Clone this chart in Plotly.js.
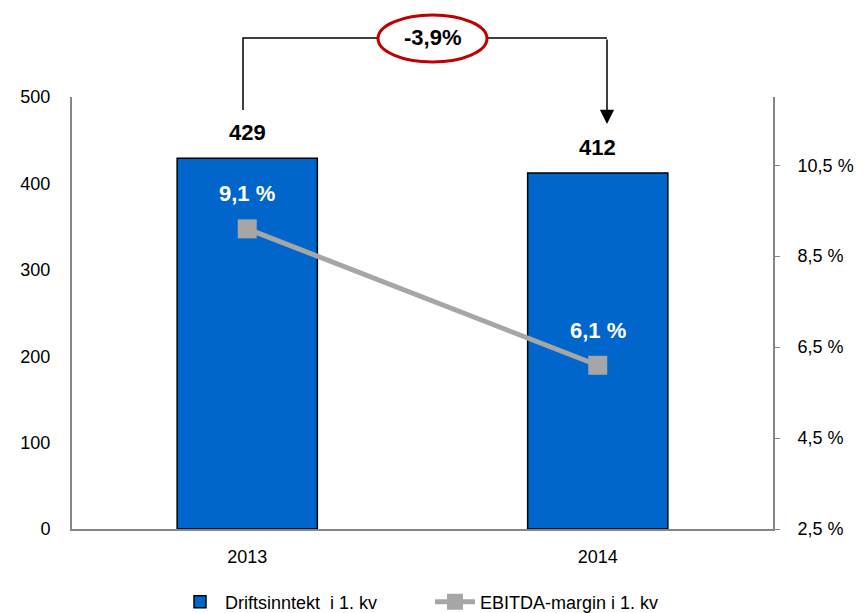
<!DOCTYPE html>
<html>
<head>
<meta charset="utf-8">
<script src="https://cdn.plot.ly/plotly-3.0.1.min.js"></script>
<style>
  html, body { margin: 0; padding: 0; background: #ffffff; }
  #chart { width: 864px; height: 613px; }
</style>
</head>
<body>
<div id="chart"></div>
<script>
// ---- Data ----
const categories = ['2013', '2014'];
const revenue = [429, 412];
const ebitdaMargin = [9.1, 6.1];
const leftTickVals = [0, 100, 200, 300, 400, 500];
const rightTickVals = [2.5, 4.5, 6.5, 8.5, 10.5];
const seriesNames = ['Driftsinntekt \u00a0i 1. kv', 'EBITDA-margin i 1. kv'];
const changeLabel = '-3,9%';

// ---- Helpers ----
const pct = v => v.toFixed(1).replace('.', ',') + ' %';
const FONT = 'Liberation Sans, Arial, sans-serif';
const AXIS_GRAY = '#868686';

// paper coordinate helpers for decorative bracket (plot area 72..773 x, 97..529 y)
const PX = px => (px - 72) / 701;
const PY = py => (529 - py) / 432;

const barTrace = {
  type: 'bar',
  name: seriesNames[0],
  x: categories,
  y: revenue,
  marker: { color: '#0066CC', line: { color: '#000000', width: 1.5 } },
  hoverinfo: 'x+y'
};

const lineTrace = {
  type: 'scatter',
  mode: 'lines+markers',
  name: seriesNames[1],
  x: categories,
  y: ebitdaMargin,
  yaxis: 'y2',
  line: { color: '#A6A6A6', width: 5 },
  marker: { symbol: 'square', size: 19, color: '#A6A6A6' }
};

const annotations = [];
categories.forEach((c, i) => {
  annotations.push({
    x: i, y: revenue[i], xref: 'x', yref: 'y',
    text: '<b>' + revenue[i] + '</b>', showarrow: false,
    xanchor: 'center', yanchor: 'middle',
    yshift: 26, font: { family: FONT, size: 22, color: '#000000' }
  });
  annotations.push({
    x: i, y: ebitdaMargin[i], xref: 'x', yref: 'y2',
    text: '<b>' + pct(ebitdaMargin[i]) + '</b>', showarrow: false,
    xanchor: 'center', yanchor: 'middle',
    yshift: 35, font: { family: FONT, size: 22, color: '#FFFFFF' }
  });
});

// change label inside ellipse
annotations.push({
  x: PX(432), y: PY(38), xref: 'paper', yref: 'paper',
  xanchor: 'center', yanchor: 'middle',
  text: '<b>' + changeLabel + '</b>', showarrow: false,
  font: { family: FONT, size: 22, color: '#000000' }
});
// arrow going down to 2014 label
annotations.push({
  x: PX(607), y: PY(124), xref: 'paper', yref: 'paper',
  text: '', showarrow: true, arrowhead: 2, arrowsize: 1.9, arrowwidth: 1.5,
  arrowcolor: '#000000', ax: 0, ay: -86, standoff: 0
});

const shapes = [
  { type: 'path', xref: 'paper', yref: 'paper',
    path: `M ${PX(243)},${PY(110)} V ${PY(38)} H ${PX(378)}`,
    line: { color: '#000000', width: 1.5 } },
  { type: 'line', xref: 'paper', yref: 'paper',
    x0: PX(487), x1: PX(607), y0: PY(38), y1: PY(38),
    line: { color: '#000000', width: 1.5 } },
  { type: 'circle', xref: 'paper', yref: 'paper',
    x0: PX(378), x1: PX(487), y0: PY(62), y1: PY(15),
    fillcolor: '#FFFFFF', line: { color: '#C00000', width: 3 } }
];

const layout = {
  width: 864, height: 613,
  margin: { l: 72, r: 91, t: 97, b: 84, autoexpand: false },
  paper_bgcolor: '#FFFFFF', plot_bgcolor: '#FFFFFF',
  font: { family: FONT, size: 18, color: '#000000' },
  separators: ', ',
  bargap: 0.6,
  showlegend: true,
  legend: {
    orientation: 'h', x: 175 / 864, xref: 'container', xanchor: 'left',
    y: 0.018, yref: 'container', yanchor: 'middle',
    itemwidth: 40, entrywidth: 200, entrywidthmode: 'pixels',
    font: { family: FONT, size: 18, color: '#000000' }, traceorder: 'normal'
  },
  xaxis: {
    type: 'category', range: [-0.5, 1.5], autorange: false,
    showline: true, linecolor: AXIS_GRAY, linewidth: 2,
    ticks: '', showgrid: false, zeroline: false, ticklabelstandoff: 10,
    tickfont: { family: FONT, size: 18, color: '#000000' }
  },
  yaxis: {
    range: [0, 500], autorange: false, tickvals: leftTickVals, showline: true, linecolor: AXIS_GRAY, linewidth: 2,
    ticks: '', showgrid: false, zeroline: false, ticklabelstandoff: 16,
    tickfont: { family: FONT, size: 18, color: '#000000' }
  },
  yaxis2: {
    overlaying: 'y', side: 'right', range: [2.5, 12], autorange: false,
    tickvals: rightTickVals, ticktext: rightTickVals.map(pct),
    showline: true, linecolor: AXIS_GRAY, linewidth: 2,
    ticks: 'outside', ticklen: 5, tickcolor: AXIS_GRAY, tickwidth: 1,
    showgrid: false, zeroline: false, ticklabelstandoff: 14,
    tickfont: { family: FONT, size: 18, color: '#000000' }
  },
  annotations: annotations,
  shapes: shapes
};

Plotly.newPlot('chart', [barTrace, lineTrace], layout, { displayModeBar: false, staticPlot: true });
</script>
</body>
</html>
